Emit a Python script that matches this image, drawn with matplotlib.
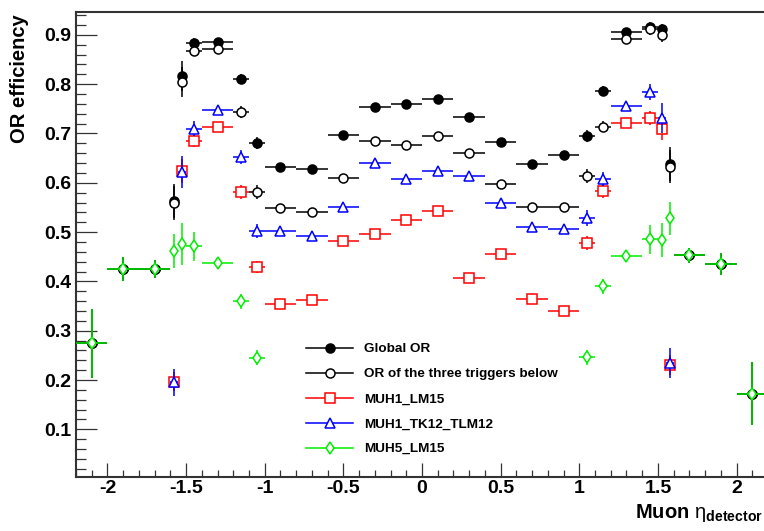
import numpy as np
import matplotlib
matplotlib.use("Agg")
import matplotlib.pyplot as plt
from matplotlib.lines import Line2D
from matplotlib.ticker import MultipleLocator

plt.rcParams.update({
    'font.family': ['Liberation Sans', 'DejaVu Sans'],
    'font.weight': 'bold',
    'mathtext.fontset': 'custom',
    'mathtext.rm': 'Liberation Sans:normal',
    'mathtext.bf': 'Liberation Sans:bold',
    'mathtext.it': 'Liberation Sans:italic:normal',
})

# bin edges in eta_detector
eta_edges = [-2.2, -2.0, -1.8, -1.6, -1.55, -1.5, -1.4, -1.2, -1.1, -1.0, -0.8, -0.6, -0.4, -0.2,
             0.0, 0.2, 0.4, 0.6, 0.8, 1.0, 1.1, 1.2, 1.4, 1.5, 1.55, 1.6, 1.8, 2.0, 2.2]

nan = np.nan
global_or = [0.275, 0.425, 0.425, 0.563, 0.817, 0.884, 0.886, 0.811, 0.680, 0.633, 0.627, 0.697, 0.753, 0.759,
             0.769, 0.733, 0.682, 0.639, 0.656, 0.695, 0.786, 0.905, 0.916, 0.911, 0.638, 0.453, 0.435, 0.172]
global_err = [0.070, 0.025, 0.018, 0.035, 0.030, 0.010, 0.006, 0.010, 0.012, 0.006, 0.006, 0.005, 0.005, 0.005,
              0.005, 0.005, 0.005, 0.006, 0.006, 0.012, 0.010, 0.006, 0.010, 0.012, 0.034, 0.015, 0.023, 0.064]

or3 = [0.275, 0.425, 0.425, 0.559, 0.804, 0.868, 0.871, 0.744, 0.582, 0.549, 0.540, 0.609, 0.684, 0.677,
       0.694, 0.661, 0.597, 0.550, 0.550, 0.613, 0.714, 0.892, 0.911, 0.900, 0.633, 0.453, 0.435, 0.172]
or3_err = [0.070, 0.025, 0.018, 0.035, 0.030, 0.010, 0.006, 0.012, 0.014, 0.006, 0.006, 0.006, 0.006, 0.006,
           0.006, 0.006, 0.006, 0.006, 0.006, 0.014, 0.012, 0.006, 0.012, 0.014, 0.034, 0.015, 0.023, 0.064]

muh1_lm15 = [nan, nan, nan, 0.197, 0.624, 0.684, 0.714, 0.582, 0.430, 0.355, 0.363, 0.482, 0.497, 0.524,
             0.542, 0.406, 0.455, 0.364, 0.341, 0.478, 0.584, 0.721, 0.731, 0.709, 0.231, nan, nan, nan]
muh1_lm15_err = [nan, nan, nan, 0.020, 0.025, 0.012, 0.006, 0.014, 0.012, 0.006, 0.006, 0.006, 0.006, 0.006,
                 0.006, 0.006, 0.006, 0.006, 0.006, 0.014, 0.014, 0.006, 0.014, 0.022, 0.020, nan, nan, nan]

muh1_tk12 = [nan, nan, nan, 0.195, 0.622, 0.710, 0.748, 0.653, 0.503, 0.503, 0.493, 0.550, 0.640, 0.608,
             0.624, 0.614, 0.559, 0.510, 0.506, 0.528, 0.608, 0.755, 0.784, 0.731, 0.234, nan, nan, nan]
muh1_tk12_err = [nan, nan, nan, 0.028, 0.032, 0.016, 0.006, 0.014, 0.014, 0.006, 0.006, 0.006, 0.006, 0.006,
                 0.006, 0.006, 0.006, 0.006, 0.006, 0.016, 0.014, 0.006, 0.016, 0.030, 0.030, nan, nan, nan]

muh5_lm15 = [0.275, 0.425, 0.425, 0.462, 0.476, 0.471, 0.437, 0.360, 0.245, nan, nan, nan, nan, nan,
             nan, nan, nan, nan, nan, 0.246, 0.390, 0.451, 0.485, 0.484, 0.528, 0.453, 0.435, 0.172]
muh5_err = [0.070, 0.025, 0.018, 0.035, 0.042, 0.030, 0.012, 0.015, 0.015, nan, nan, nan, nan, nan,
            nan, nan, nan, nan, nan, 0.015, 0.015, 0.012, 0.030, 0.035, 0.033, 0.015, 0.023, 0.064]

labels = ['Global OR', 'OR of the three triggers below', 'MUH1_LM15', 'MUH1_TK12_TLM12', 'MUH5_LM15']

edges = np.array(eta_edges)
eta = 0.5 * (edges[1:] + edges[:-1])
eta_half = 0.5 * (edges[1:] - edges[:-1])

fig = plt.figure(figsize=(7.64, 5.31), dpi=100)
ax = fig.add_axes([0.0995, 0.1023, 0.9058, 0.8757])

series = [
    (global_or, global_err, '#000000', 'o', '#000000', 6.5),
    (or3, or3_err, '#000000', 'o', 'white', 6.5),
    (muh1_lm15, muh1_lm15_err, '#ff0000', 's', 'white', 6.5),
    (muh1_tk12, muh1_tk12_err, '#0000ff', '^', 'white', 7),
    (muh5_lm15, muh5_err, '#00ee00', 'd', 'white', 6.5),
]

handles = []
for i, (vals, errs, col, mk, fc, ms) in enumerate(series):
    ax.errorbar(eta, vals, xerr=eta_half, yerr=errs, fmt=mk, color=col, mfc=fc, mec=col,
                ms=ms, mew=1.1, elinewidth=1.1, capsize=0, zorder=3 + i)
    handles.append(Line2D([], [], color=col, marker=mk, mfc=fc, mec=col, ms=ms, mew=1.1, lw=1.1))

ax.set_xlim(-2.2, 2.2)
ax.set_ylim(0.004, 0.947)

ax.xaxis.set_major_locator(MultipleLocator(0.5))
ax.xaxis.set_minor_locator(MultipleLocator(0.1))
ax.yaxis.set_major_locator(MultipleLocator(0.1))
ax.yaxis.set_minor_locator(MultipleLocator(0.02))
ax.tick_params(axis='both', which='both', direction='in', top=False, right=False,
               color='#333333', width=0.9, labelsize=14)
ax.tick_params(axis='y', which='major', length=15, pad=3.6)
ax.tick_params(axis='y', which='minor', length=7.2)
ax.tick_params(axis='x', which='major', length=10, pad=2.5)
ax.tick_params(axis='x', which='minor', length=5)
ax.xaxis.set_major_formatter(plt.FuncFormatter(lambda v, p: ('%g' % v)))
ax.yaxis.set_major_formatter(plt.FuncFormatter(lambda v, p: ('%g' % round(v, 2))))
for s in ax.spines.values():
    s.set_linewidth(1.5)
    s.set_color('#333333')

fig.text(20 / 764, 1 - 14 / 531, 'OR efficiency', rotation=90, ha='center', va='top',
         fontsize=14.5, fontweight='bold')
fig.text(763 / 764, 1 - 518 / 531, r'Muon $\mathrm{\eta}_{\mathbf{detector}}$', ha='right',
         va='baseline', fontsize=14.5, fontweight='bold')

ax.legend(handles, labels, loc='upper left', bbox_to_anchor=(306 / 764, 1 - 343 / 531),
          bbox_transform=fig.transFigure, frameon=False, fontsize=9.7, borderpad=0,
          handlelength=3.5, handletextpad=0.8, labelspacing=0.93, borderaxespad=0)

fig.savefig('out.png', dpi=100)
